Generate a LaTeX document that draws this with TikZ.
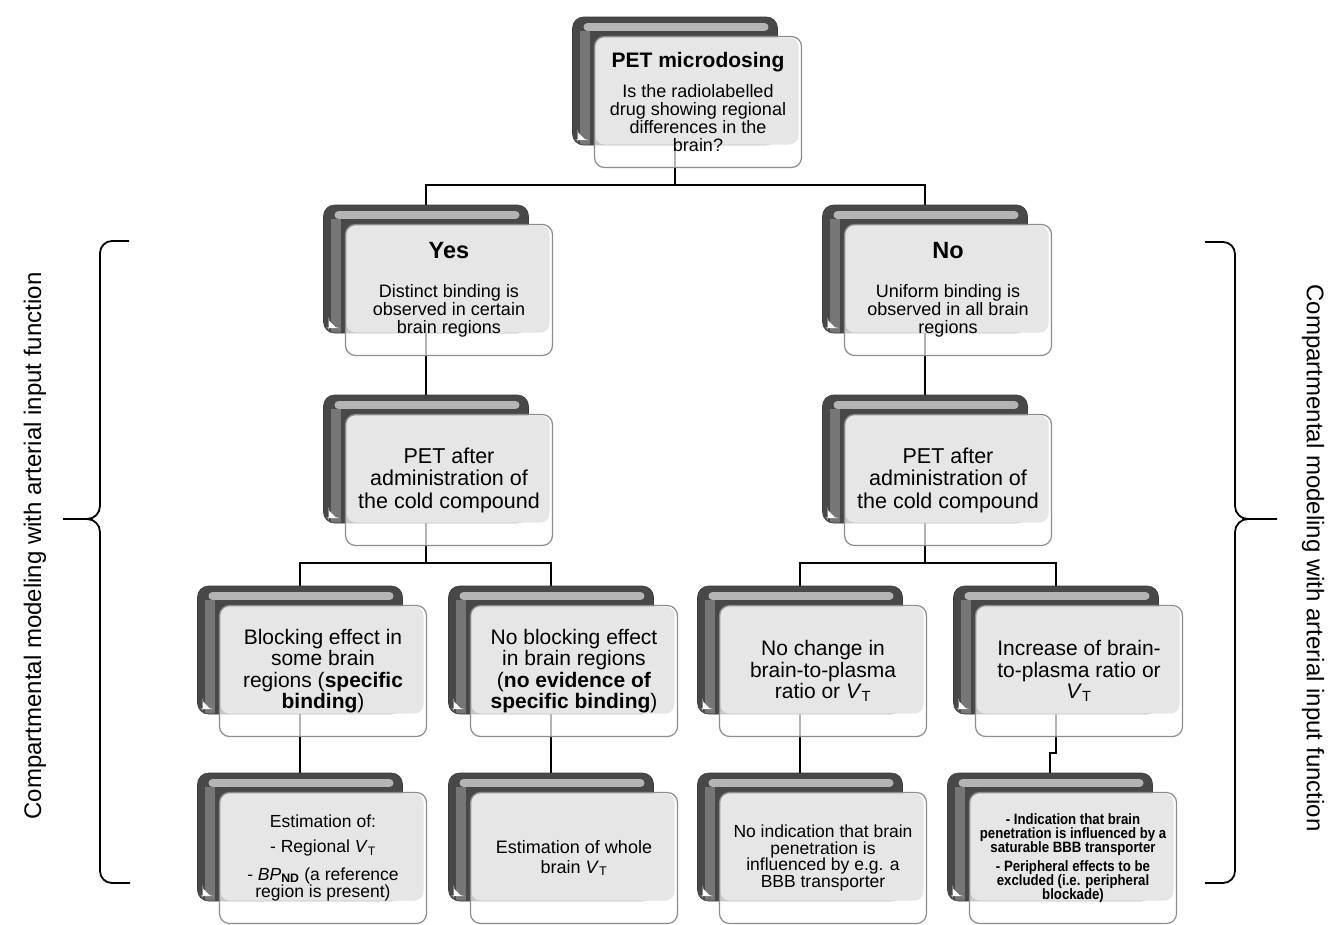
\documentclass[tikz,border=0pt]{standalone}
\usepackage{fontspec}
\setmainfont{Liberation Sans}
\newfontfamily\narrowfont[FakeStretch=0.88]{Liberation Sans}
\usepackage{xcolor}
\usepackage{tikz}
\usetikzlibrary{backgrounds}
\definecolor{backdark}{HTML}{484848}
\definecolor{backmid}{HTML}{767676}
\definecolor{backlight}{HTML}{b4b4b4}
\definecolor{frontgray}{HTML}{e6e6e6}
\definecolor{frontedge}{HTML}{8c8c8c}
\tikzstyle{backbox} = [rectangle, rounded corners=11pt, minimum width=205pt, minimum height=128pt, inner sep=0pt,
  draw=backdark!80!black, line width=0.6pt, fill=backdark, path picture={
    \draw[backmid, line width=10pt] ([xshift=12pt]path picture bounding box.south west) -- ([xshift=12pt,yshift=-14pt]path picture bounding box.north west);
    \draw[backlight, line width=8pt, line cap=round] ([xshift=15pt,yshift=-10pt]path picture bounding box.north west) -- ([xshift=-13pt,yshift=-10pt]path picture bounding box.north east);
    \fill[white] ([shift={(5pt,5pt)}]path picture bounding box.south west) -- ++(0pt,8pt) -- ++(8pt,-8pt) -- cycle;}]
\tikzstyle{frontbox} = [rectangle, rounded corners=10pt, minimum width=207pt, minimum height=131pt, inner sep=2pt, align=center,
  draw=frontedge, line width=1.2pt, fill=white, fill opacity=0.7, text opacity=1, font=\fontsize{18}{18}\selectfont, path picture={
    \fill[frontgray, fill opacity=1, rounded corners=9pt] ([shift={(1pt,-1pt)}]path picture bounding box.north west) rectangle ([shift={(-3pt,23pt)}]path picture bounding box.south east);}]
\tikzstyle{conn} = [draw=black, line width=1.8pt]
\tikzstyle{curly} = [draw=black, line width=1.8pt]
\tikzstyle{sidelabel} = [font=\fontsize{24}{26}\selectfont, inner sep=0pt]
\newcommand{\VT}{\textit{V}\textsubscript{T}}

\begin{document}
\begin{tikzpicture}[x=1pt, y=-1pt]
  \useasboundingbox (0,0) rectangle (1332,924);

  % question
  \node (petb) [backbox] at (675,81) {};
  \node (pet) [frontbox] at ([shift={(23,21)}]petb.center)
    {{\fontsize{21}{21}\selectfont\bfseries PET microdosing}\\[12pt]Is the radiolabelled\\drug showing regional\\differences in the\\brain?};

  % yes / no
  \node (yesb) [backbox] at (426,269) {};
  \node (yes) [frontbox] at ([shift={(23,21)}]yesb.center)
    {{\fontsize{23.5}{24}\selectfont\bfseries Yes}\\[21pt]Distinct binding is\\observed in certain\\brain regions};
  \node (nob) [backbox] at (925,269) {};
  \node (no) [frontbox] at ([shift={(23,21)}]nob.center)
    {{\fontsize{23.5}{24}\selectfont\bfseries No}\\[21pt]Uniform binding is\\observed in all brain\\regions};

  % cold compound
  \node (coldyb) [backbox] at (426,459) {};
  \node (coldy) [frontbox, font=\fontsize{21.5}{22.5}\selectfont] at ([shift={(23,21)}]coldyb.center)
    {PET after\\administration of\\the cold compound};
  \node (coldnb) [backbox] at (925,459) {};
  \node (coldn) [frontbox, font=\fontsize{21.5}{22.5}\selectfont] at ([shift={(23,21)}]coldnb.center)
    {PET after\\administration of\\the cold compound};

  % effects
  \node (blockb) [backbox] at (300,650) {};
  \node (block) [frontbox, font=\fontsize{21}{21.5}\selectfont] at ([shift={(23,21)}]blockb.center)
    {Blocking effect in\\some brain\\regions (\textbf{specific}\\\textbf{binding})};
  \node (noblockb) [backbox] at (551,650) {};
  \node (noblock) [frontbox, font=\fontsize{21}{21.5}\selectfont] at ([shift={(23,21)}]noblockb.center)
    {No blocking effect\\in brain regions\\(\textbf{no evidence of}\\\textbf{specific binding})};
  \node (nochangeb) [backbox] at (800,650) {};
  \node (nochange) [frontbox, font=\fontsize{21}{21.5}\selectfont] at ([shift={(23,21)}]nochangeb.center)
    {No change in\\brain-to-plasma\\ratio or \VT};
  \node (incrb) [backbox] at (1056,650) {};
  \node (incr) [frontbox, font=\fontsize{21}{21.5}\selectfont] at ([shift={(23,21)}]incrb.center)
    {Increase of brain-\\to-plasma ratio or\\\VT};

  % conclusions
  \node (estregb) [backbox] at (300,837) {};
  \node (estreg) [frontbox, font=\fontsize{17.5}{15}\selectfont] at ([shift={(23,21)}]estregb.center)
    {Estimation of:\\[10pt]- Regional \VT\\[10pt]- \textit{BP}\textsubscript{\textbf{ND}} (a reference\\region is present)};
  \node (estwbb) [backbox] at (551,837) {};
  \node (estwb) [frontbox, font=\fontsize{18}{20}\selectfont] at ([shift={(23,21)}]estwbb.center)
    {Estimation of whole\\brain \VT};
  \node (noindb) [backbox] at (800,837) {};
  \node (noind) [frontbox, font=\fontsize{17.5}{16.5}\selectfont] at ([shift={(23,21)}]noindb.center)
    {No indication that brain\\penetration is\\influenced by e.g. a\\BBB transporter};
  \node (indb) [backbox] at (1050,837) {};
  \node (ind) [frontbox, font=\narrowfont\bfseries\fontsize{15}{14}\selectfont] at ([shift={(23,21)}]indb.center)
    {- Indication that brain\\penetration is influenced by a\\saturable BBB transporter\\[5pt]- Peripheral effects to be\\excluded (i.e. peripheral\\blockade)};

  \begin{scope}[on background layer]
    \coordinate (j1) at (675,185);
    \coordinate (j2) at (426,563);
    \coordinate (j3) at (925,563);
    \coordinate (j4) at (1053,753);
    \draw[conn] (petb.south) -- (j1);
    \draw[conn] (yesb.north) |- (j1) -| (nob.north);
    \draw[conn] (yesb.south) -- (coldyb.north);
    \draw[conn] (nob.south) -- (coldnb.north);
    \draw[conn] (coldyb.south) -- (j2);
    \draw[conn] (blockb.north) |- (j2) -| (noblockb.north);
    \draw[conn] (coldnb.south) -- (j3);
    \draw[conn] (nochangeb.north) |- (j3) -| (incrb.north);
    \draw[conn] (blockb.south) -- (estregb.north);
    \draw[conn] (noblockb.south) -- (estwbb.north);
    \draw[conn] (nochangeb.south) -- (noindb.north);
    \draw[conn] (incrb.south) |- (j4) -| (indb.north);
  \end{scope}

  % braces and side labels
  \draw[curly] (129,241) -- (112,241) to[out=180,in=90] (100,253) -- (100,506) to[out=-90,in=0] (87,519) -- (63,519);
  \draw[curly] (87,519) to[out=0,in=90] (100,532) -- (100,871) to[out=-90,in=180] (112,883) -- (130,883);
  \draw[curly] (1205,242) -- (1223,242) to[out=0,in=90] (1235,254) -- (1235,506) to[out=-90,in=180] (1248,519) -- (1277,519);
  \draw[curly] (1248,519) to[out=180,in=90] (1235,532) -- (1235,871) to[out=-90,in=0] (1223,883) -- (1205,883);
  \node (sidel) [sidelabel, rotate=90] at (35,546) {Compartmental modeling with arterial input function};
  \node (sider) [sidelabel, rotate=-90] at (1313,558) {Compartmental modeling with arterial input function};
\end{tikzpicture}
\end{document}
